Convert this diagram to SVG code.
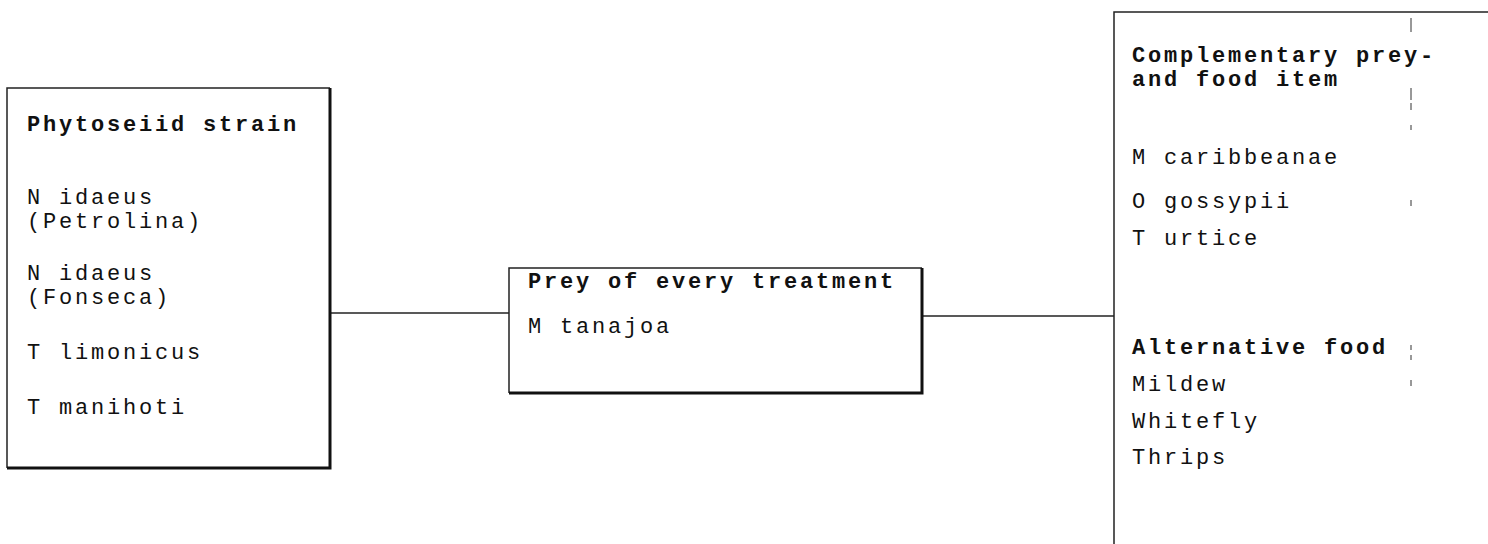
<svg xmlns="http://www.w3.org/2000/svg" width="1488" height="544" viewBox="0 0 1488 544">
<style>
.t{font-family:"Liberation Mono","Courier New",monospace;font-size:22px;letter-spacing:2.8px;fill:#111}
.b{font-weight:bold}
.thin{stroke:#222;stroke-width:1.5;fill:none}
.thick{stroke:#111;stroke-width:3;fill:none}
.mark{stroke:#333;stroke-width:1;fill:none}
</style>
<rect width="1488" height="544" fill="#fff"/>
<g id="connectors">
<line class="thin" x1="330" y1="313" x2="509" y2="313"/>
<line class="thin" x1="922" y1="316" x2="1114" y2="316"/>
</g>
<g id="node-phytoseiid">
<path class="thin" d="M7 468 V88 H330"/>
<path class="thick" d="M330 88 V468 H7"/>
<text class="t b" x="27" y="131">Phytoseiid strain</text>
<text class="t" x="27" y="204">N idaeus</text>
<text class="t" x="27" y="228">(Petrolina)</text>
<text class="t" x="27" y="280">N idaeus</text>
<text class="t" x="27" y="304">(Fonseca)</text>
<text class="t" x="27" y="359">T limonicus</text>
<text class="t" x="27" y="414">T manihoti</text>
</g>
<g id="node-prey">
<path class="thin" d="M509 393 V268 H922"/>
<path class="thick" d="M922 268 V393 H509"/>
<text class="t b" x="528" y="288">Prey of every treatment</text>
<text class="t" x="528" y="333">M tanajoa</text>
</g>
<g id="node-complementary">
<path class="thin" d="M1114 544 V12 H1488"/>
<path class="mark" d="M1411 18 V32 M1411 88 V100 M1411 103 V110 M1411 125 V130 M1411 200 V206 M1411 345 V350 M1411 355 V360 M1411 380 V386"/>
<text class="t b" x="1132" y="62">Complementary prey-</text>
<text class="t b" x="1132" y="86">and food item</text>
<text class="t" x="1132" y="164">M caribbeanae</text>
<text class="t" x="1132" y="208">O gossypii</text>
<text class="t" x="1132" y="245">T urtice</text>
<text class="t b" x="1132" y="354">Alternative food</text>
<text class="t" x="1132" y="391">Mildew</text>
<text class="t" x="1132" y="428">Whitefly</text>
<text class="t" x="1132" y="464">Thrips</text>
</g>
</svg>
